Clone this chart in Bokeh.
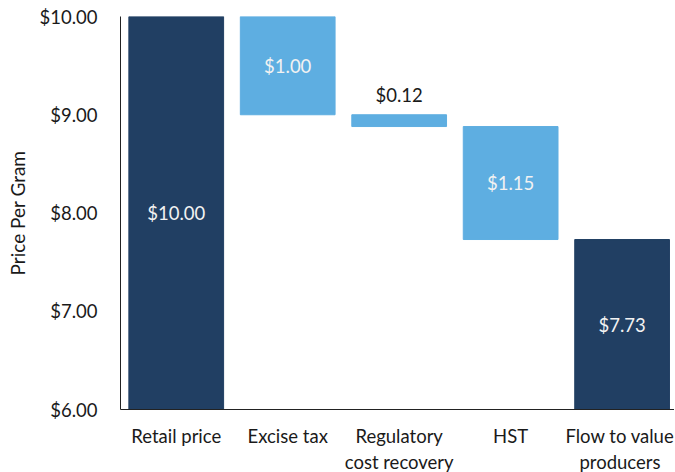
from bokeh.plotting import figure
from bokeh.models import Range1d, FixedTicker, ColumnDataSource, NumeralTickFormatter
from bokeh.core.properties import value
from bokeh.embed import file_html
from bokeh.resources import INLINE

categories = ["Retail price", "Excise tax", "Regulatory\ncost recovery", "HST", "Flow to value\nproducers"]
amounts = [10.00, 1.00, 0.12, 1.15, 7.73]
kinds = ["total", "step", "step", "step", "total"]
labels = ["$10.00", "$1.00", "$0.12", "$1.15", "$7.73"]
y_ticks = [6, 7, 8, 9, 10]

DARK = "#213F63"
LIGHT = "#5EAEE1"
FONT = "Lato"
FS = "18.5px"

Y0 = 6.0
xs, tops, bottoms, colors = [], [], [], []
running = amounts[0]
for i, (a, k) in enumerate(zip(amounts, kinds)):
    xs.append(i)
    if k == "total":
        top, bot = a, Y0
        colors.append(DARK)
    else:
        top, bot = running, running - a
        running = bot
        colors.append(LIGHT)
    tops.append(top)
    bottoms.append(bot)

src = ColumnDataSource(dict(x=xs, top=tops, bottom=bottoms, color=colors))

p = figure(width=674, height=479, output_backend="svg", toolbar_location=None,
           x_range=Range1d(-0.5, 4.47), y_range=Range1d(Y0, 10))
p.min_border_left = 120
p.min_border_right = 0
p.min_border_top = 16
p.min_border_bottom = 70
p.outline_line_color = None
p.grid.grid_line_color = None
p.background_fill_color = "white"

p.vbar(x="x", top="top", bottom="bottom", width=0.85, color="color", source=src)

# value labels
inside_x, inside_y, inside_t = [], [], []
out_x, out_y, out_t = [], [], []
for i in range(len(amounts)):
    if amounts[i] < 0.3:
        out_x.append(i); out_y.append(tops[i]); out_t.append(labels[i])
    else:
        inside_x.append(i); inside_y.append((tops[i] + bottoms[i]) / 2); inside_t.append(labels[i])

p.text(x=inside_x, y=inside_y, text=inside_t, text_font=value(FONT), text_font_size=FS,
       text_color="#F2F2F2", text_align="center", text_baseline="middle")
p.text(x=out_x, y=out_y, text=out_t, text_font=value(FONT), text_font_size=FS,
       text_color="#1a1a1a", text_align="center", text_baseline="middle", y_offset=-20)

p.xaxis.ticker = FixedTicker(ticks=list(range(len(categories))))
p.xaxis.major_label_overrides = {i: c for i, c in enumerate(categories)}
p.yaxis.ticker = FixedTicker(ticks=y_ticks)
p.yaxis.formatter = NumeralTickFormatter(format="$0.00")

for ax in (p.xaxis, p.yaxis):
    ax.major_tick_line_color = None
    ax.minor_tick_line_color = None
    ax.major_tick_out = 0
    ax.major_tick_in = 0
    ax.axis_line_color = "#222222"
    ax.major_label_text_font = FONT
    ax.major_label_text_font_size = FS
    ax.major_label_text_color = "#1a1a1a"

p.xaxis.major_label_standoff = 15
p.xaxis.major_label_text_line_height = 1.2
p.yaxis.major_label_standoff = 23
p.yaxis.axis_label = "Price Per Gram"
p.yaxis.axis_label_text_font = FONT
p.yaxis.axis_label_text_font_size = "19px"
p.yaxis.axis_label_text_font_style = "normal"
p.yaxis.axis_label_text_color = "#1a1a1a"
p.yaxis.axis_label_standoff = 7

open("out.html", "w").write(file_html(p, INLINE))
